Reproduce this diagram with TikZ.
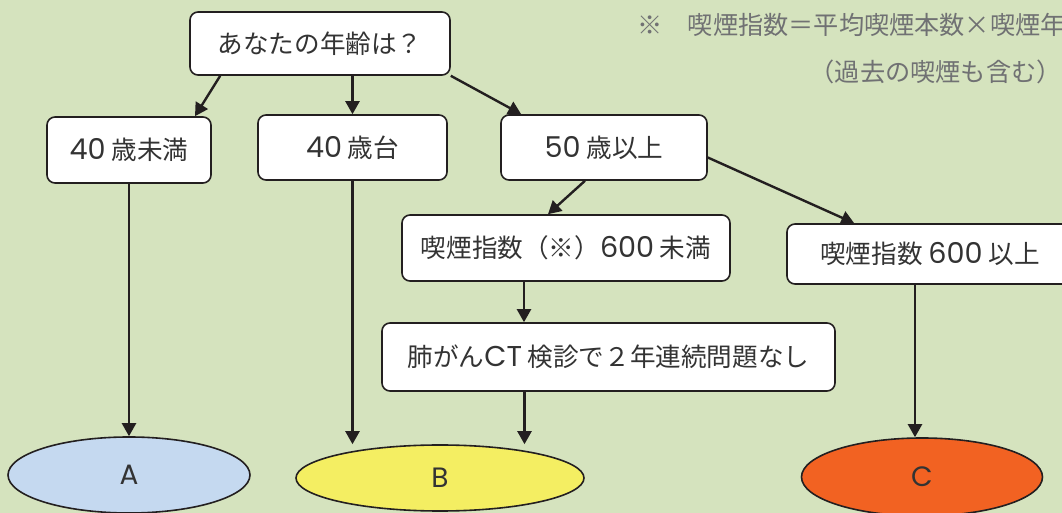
\documentclass[tikz,border=0pt]{standalone}
\usepackage{fontspec}
\setmainfont{Noto Sans CJK JP}
\newfontfamily\lat[Scale=1.12]{Poppins}
\usetikzlibrary{arrows.meta,shapes.geometric}
\definecolor{bggreen}{HTML}{D5E3BE}
\definecolor{boxline}{HTML}{231F20}
\definecolor{txtgray}{HTML}{333333}
\definecolor{notegray}{HTML}{707173}
\definecolor{ablue}{HTML}{C5D9F0}
\definecolor{byellow}{HTML}{F4EE62}
\definecolor{corange}{HTML}{F26222}

\begin{document}
\begin{tikzpicture}[x=0.5pt,y=-0.5pt,
    box/.style={draw=boxline,fill=white,rounded corners=4pt,line width=0.8pt,inner sep=0pt,
      text=txtgray,font=\fontsize{12.8}{14}\selectfont},
    goal/.style={ellipse,draw=boxline,line width=0.8pt,inner sep=0pt,
      text=txtgray,font=\fontsize{12.5}{14}\selectfont\lat},
    note/.style={inner sep=0pt,text=notegray,font=\fontsize{12.6}{14}\selectfont},
    arr/.style={draw=boxline,line width=1.2pt,-{Triangle[length=6.5pt,width=7pt]}}]
    \fill[bggreen] (0,0) rectangle (1062,513);
    \useasboundingbox (0,0) rectangle (1062,513);
    \clip (0,0) rectangle (1062,513);

    \node[note,anchor=west] (note1) at (637,25) {※　喫煙指数＝平均喫煙本数×喫煙年数};
    \node[note,anchor=east] (note2) at (1062,72) {（過去の喫煙も含む）};

    \node[box,minimum width=130pt,minimum height=31.5pt] (q) at (320,43.5) {あなたの年齢は？};
    \node[box,minimum width=82pt,minimum height=33pt] (u40) at (129,150) {{\lat 40} 歳未満};
    \node[box,minimum width=94.5pt,minimum height=32.5pt] (s40) at (352.5,147.5) {{\lat 40} 歳台};
    \node[box,minimum width=103pt,minimum height=32.5pt] (o50) at (604,147.5) {{\lat 50} 歳以上};
    \node[box,minimum width=164pt,minimum height=33pt] (lt600) at (566,248) {喫煙指数（※）{\lat 600} 未満};
    \node[box,minimum width=143pt,minimum height=30pt] (ge600) at (930,254) {喫煙指数 {\lat 600} 以上};
    \node[box,minimum width=226.5pt,minimum height=34pt] (ct) at (608.5,357) {肺がん{\lat CT} 検診で２年連続問題なし};

    \node[goal,fill=ablue,minimum width=121pt,minimum height=38pt] (a) at (129,475) {A};
    \node[goal,fill=byellow,minimum width=144pt,minimum height=33pt] (b) at (440,478) {B};
    \node[goal,fill=corange,minimum width=120.5pt,minimum height=39pt] (c) at (922,477) {C};

    \draw[arr] ([xshift=15.5pt]q.south west) -- ([xshift=33pt]u40.north);
    \draw[arr] (q.south -| s40.north) -- (s40.north);
    \draw[arr] (q.south east) -- ([xshift=10.5pt]o50.north west);
    \draw[arr] ([xshift=-9.5pt]o50.south) -- ([xshift=-9pt]lt600.north);
    \draw[arr] ([yshift=-5pt]o50.east) -- ([xshift=34pt]ge600.north west);
    \draw[arr] ([xshift=-21pt]lt600.south) -- ([xshift=-21pt]lt600.south |- ct.north);

    \draw[arr] (u40) -- (a);
    \draw[arr] (s40.south) -- (s40.south |- b.north);
    \draw[arr] ([xshift=-42pt]ct.south) -- ([xshift=-42pt]ct.south |- b.north);
    \draw[arr] ([xshift=-7.5pt]ge600.south) -- ([xshift=-7.5pt]ge600.south |- c.north);
\end{tikzpicture}
\end{document}
